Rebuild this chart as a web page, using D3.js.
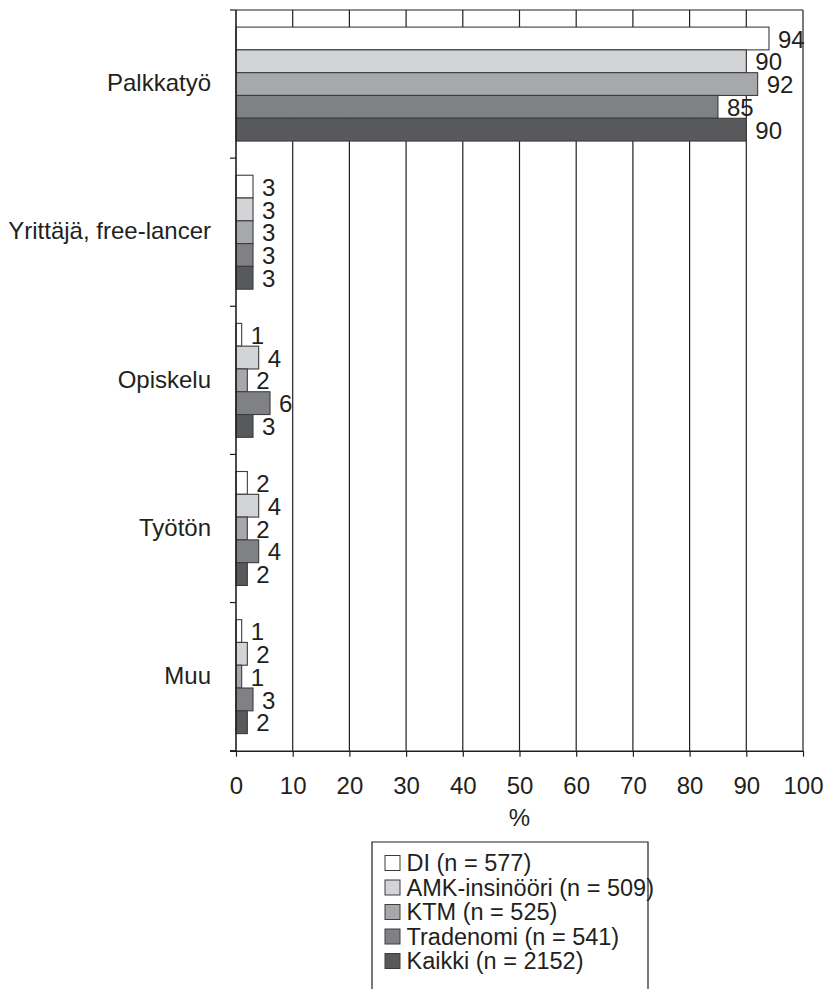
<!DOCTYPE html>
<html>
<head>
<meta charset="utf-8">
<script src="https://cdn.jsdelivr.net/npm/d3@7/dist/d3.min.js"></script>
<style>
  html, body { margin: 0; padding: 0; background: #fff; }
  svg { display: block; }
  text { font-family: "Liberation Sans", Arial, Helvetica, sans-serif; fill: #231f20; }
</style>
</head>
<body>
<script>
// Activity after graduation, share of respondents (%)
const categories = ["Palkkatyö", "Yrittäjä, free-lancer", "Opiskelu", "Työtön", "Muu"];
const seriesNames = ["DI (n = 577)", "AMK-insinööri (n = 509)", "KTM (n = 525)", "Tradenomi (n = 541)", "Kaikki (n = 2152)"];
const seriesColors = ["#ffffff", "#d3d4d6", "#a7a8ab", "#808184", "#58595b"];
const valuesDI        = [94, 3, 1, 2, 1];
const valuesAMK       = [90, 3, 4, 4, 2];
const valuesKTM       = [92, 3, 2, 2, 1];
const valuesTradenomi = [85, 3, 6, 4, 3];
const valuesKaikki    = [90, 3, 3, 2, 2];
const xTicks = [0, 10, 20, 30, 40, 50, 60, 70, 80, 90, 100];
const axisTitle = "%";

const seriesValues = [valuesDI, valuesAMK, valuesKTM, valuesTradenomi, valuesKaikki];

const W = 825, H = 989;
const plot = { left: 236, right: 803, top: 10, bottom: 750.7 };
const ink = "#231f20";
const fontSize = 24;

const svg = d3.select("body").append("svg")
  .attr("width", W).attr("height", H);

const x = d3.scaleLinear().domain([0, 100]).range([plot.left, plot.right]);
const y = d3.scaleBand().domain(categories).range([plot.top, plot.bottom]).padding(0);
const yInner = d3.scaleBand().domain(seriesNames).range([0, y.bandwidth()])
  .paddingInner(0).paddingOuter(0.75);

// vertical gridlines
svg.append("g").selectAll("line").data(xTicks.slice(1)).join("line")
  .attr("x1", d => x(d)).attr("x2", d => x(d))
  .attr("y1", plot.top).attr("y2", plot.bottom)
  .attr("stroke", ink).attr("stroke-width", 1.2);

// top frame line
svg.append("line")
  .attr("x1", plot.left).attr("x2", plot.right)
  .attr("y1", plot.top).attr("y2", plot.top)
  .attr("stroke", ink).attr("stroke-width", 1.2);

// bars
const rows = [];
categories.forEach((c, ci) => {
  seriesNames.forEach((s, si) => {
    rows.push({ cat: c, series: s, si, value: seriesValues[si][ci] });
  });
});

const bars = svg.append("g");
bars.selectAll("rect").data(rows).join("rect")
  .attr("x", x(0))
  .attr("y", d => y(d.cat) + yInner(d.series))
  .attr("width", d => x(d.value) - x(0))
  .attr("height", yInner.bandwidth())
  .attr("fill", d => seriesColors[d.si])
  .attr("stroke", "#3d3d3f")
  .attr("stroke-width", 1.1);

// value labels
bars.selectAll("text").data(rows).join("text")
  .attr("x", d => x(d.value) + 9)
  .attr("y", d => y(d.cat) + yInner(d.series) + yInner.bandwidth() / 2)
  .attr("dy", "0.38em")
  .attr("font-size", fontSize)
  .text(d => d.value);

// x axis
const xAxis = svg.append("g")
  .attr("transform", `translate(0,${plot.bottom})`)
  .call(d3.axisBottom(x).tickValues(xTicks).tickSize(6).tickPadding(20).tickFormat(d3.format("d")));
xAxis.select(".domain").attr("stroke", ink).attr("stroke-width", 1.5)
  .attr("d", `M${plot.left - 6},0.5H${plot.right}`);
xAxis.selectAll(".tick line").attr("stroke", ink).attr("stroke-width", 1.2);
xAxis.selectAll(".tick text")
  .attr("font-size", fontSize).attr("font-family", null).attr("fill", ink);

svg.append("text")
  .attr("x", (plot.left + plot.right) / 2)
  .attr("y", 826)
  .attr("text-anchor", "middle")
  .attr("font-size", fontSize)
  .text(axisTitle);

// y axis: line, boundary ticks and category labels
svg.append("line")
  .attr("x1", plot.left).attr("x2", plot.left)
  .attr("y1", plot.top).attr("y2", plot.bottom)
  .attr("stroke", ink).attr("stroke-width", 1.6);

const boundaries = categories.map(c => y(c)).concat([y(categories[categories.length - 1]) + y.bandwidth()]);
svg.append("g").selectAll("line").data(boundaries).join("line")
  .attr("x1", plot.left - 6).attr("x2", plot.left)
  .attr("y1", d => d).attr("y2", d => d)
  .attr("stroke", ink).attr("stroke-width", 1.2);

svg.append("g").selectAll("text").data(categories).join("text")
  .attr("x", plot.left - 25)
  .attr("y", d => y(d) + y.bandwidth() / 2)
  .attr("dy", "0.3em")
  .attr("text-anchor", "end")
  .attr("font-size", fontSize)
  .text(d => d);

// legend
const legend = svg.append("g").attr("transform", "translate(372,842)");
legend.append("path")
  .attr("d", "M0,160V0H276V160")
  .attr("fill", "none")
  .attr("stroke", ink)
  .attr("stroke-width", 1.2);

const items = legend.selectAll("g.item").data(seriesNames).join("g")
  .attr("class", "item")
  .attr("transform", (d, i) => `translate(0,${21 + i * 24.5})`);
items.append("rect")
  .attr("x", 13).attr("y", -7.5)
  .attr("width", 15).attr("height", 15)
  .attr("fill", (d, i) => seriesColors[i])
  .attr("stroke", "#3d3d3f").attr("stroke-width", 1);
items.append("text")
  .attr("x", 34.5)
  .attr("dy", "0.36em")
  .attr("font-size", 23.5)
  .text(d => d);
</script>
</body>
</html>
